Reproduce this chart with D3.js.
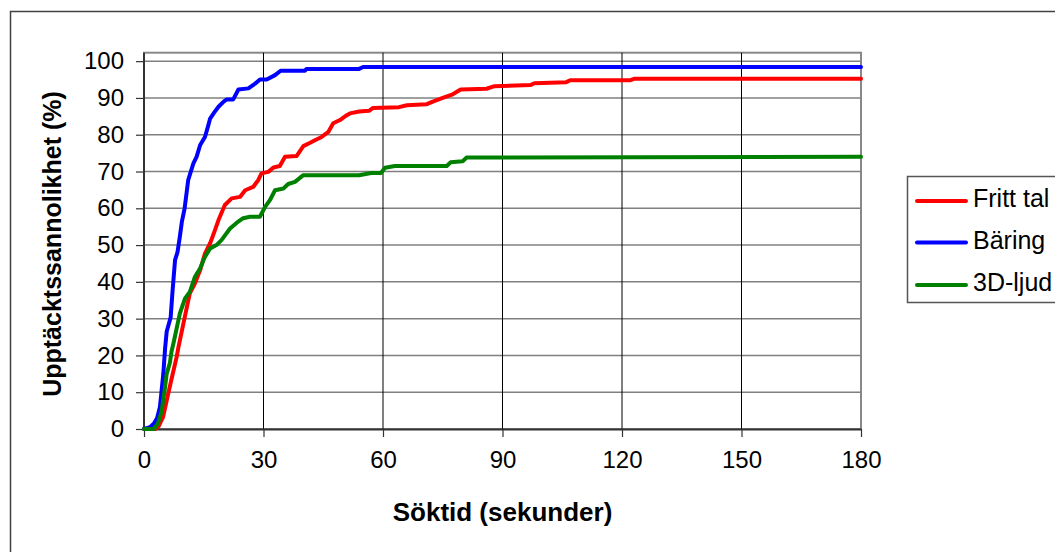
<!DOCTYPE html>
<html>
<head>
<meta charset="utf-8">
<script src="https://cdn.jsdelivr.net/npm/d3@7"></script>
<style>
  body { margin: 0; background: #fff; }
  svg { display: block; font-family: Arial, 'Liberation Sans', sans-serif; }
</style>
</head>
<body>
<svg id="chart" width="1055" height="552"></svg>
<script>
// series names and colours
const seriesNames = ['Fritt tal', 'Bäring', '3D-ljud'];
const seriesColors = ['#ff0000', '#0000ff', '#008000'];

// Fritt tal
const frittT = [0, 2.8, 3.6, 4.8, 6.1, 7.0, 8.2, 8.6, 9.9, 11.5, 12.8, 14.1, 15.3, 16.6, 17.8, 18.7, 20.3, 22.0, 24.1, 25.4, 27.4, 28.7, 29.5, 31.2, 32.5, 34.1, 35.4, 38.3, 40.0, 41.7, 42.9, 44.6, 46.3, 47.5, 49.2, 50.9, 51.7, 54.0, 56.5, 57.5, 64, 66, 71, 72.5, 75, 77.5, 79.5, 86, 88, 97, 98, 106, 107, 122, 123, 180];
const frittV = [0, 0, 0.6, 3.3, 9.7, 14, 19.6, 22, 28.7, 36.9, 39.6, 43.2, 47.7, 50.5, 54, 56.8, 60.9, 62.7, 63.1, 64.9, 65.8, 67.7, 69.5, 69.9, 71.1, 71.5, 74, 74.2, 76.9, 77.8, 78.5, 79.4, 80.8, 83.1, 84, 85.3, 85.8, 86.3, 86.5, 87.3, 87.5, 88, 88.3, 89, 90, 91, 92.3, 92.5, 93.2, 93.5, 94, 94.3, 94.8, 94.8, 95.2, 95.2];

// Bäring
const baringT = [0, 1.5, 2.5, 3.3, 4.0, 4.85, 5.3, 5.7, 6.7, 7.2, 7.8, 8.4, 9.0, 9.5, 10.2, 11.1, 12.4, 13.2, 14.1, 15.3, 16.0, 16.6, 17.6, 18.7, 20.0, 20.8, 22.4, 23.7, 26.2, 27.9, 29.1, 30.8, 32.9, 34.3, 40.4, 40.8, 54.0, 55.0, 180];
const baringV = [0, 0.5, 1.5, 3, 6, 15, 22, 26.5, 30.4, 38, 46, 48, 52.3, 56.3, 60, 67.7, 72.2, 74, 77.2, 79.4, 82, 84.4, 86, 87.6, 89, 89.6, 89.6, 92.3, 92.6, 93.9, 95.0, 95.0, 96.2, 97.4, 97.4, 97.9, 97.9, 98.4, 98.4];

// 3D-ljud
const ljudT = [0, 2.5, 3.5, 4.4, 5.3, 5.7, 6.5, 6.9, 7.4, 9.0, 10.3, 11.5, 12.8, 14.1, 15.3, 16.6, 18.2, 19.5, 21.6, 23.3, 24.9, 26.6, 29.1, 30.4, 31.6, 32.9, 35.0, 36.2, 37.9, 40.0, 54, 57, 59.5, 60.5, 63, 76, 77, 80, 81, 180];
const ljudV = [0, 0, 1.5, 4.7, 11.5, 15, 18, 21, 23.3, 31.4, 35.5, 37.3, 41.4, 43.7, 46.8, 49.1, 50, 51.4, 54.5, 56.1, 57.3, 57.7, 57.7, 60.4, 62.2, 64.9, 65.4, 66.6, 67.2, 69.0, 69.0, 69.6, 69.6, 71.0, 71.5, 71.5, 72.5, 72.8, 73.8, 74.0];

const xTicks = [0, 30, 60, 90, 120, 150, 180];
const yTicks = [0, 10, 20, 30, 40, 50, 60, 70, 80, 90, 100];

const seriesT = [frittT, baringT, ljudT];
const seriesV = [frittV, baringV, ljudV];

const svg = d3.select('#chart');

const plot = { left: 144, right: 861, top: 52.7, bottom: 429 };

const x = d3.scaleLinear().domain([0, 180]).range([plot.left, plot.right]);
const y = d3.scaleLinear().domain([0, 102.3]).range([plot.bottom, plot.top]);

// outer chart frame
svg.append('rect')
  .attr('x', 10.5).attr('y', 11.5)
  .attr('width', 1100).attr('height', 600)
  .attr('fill', 'none')
  .attr('stroke', '#404040')
  .attr('stroke-width', 1.5);

// plot border (top / right)
svg.append('rect')
  .attr('x', plot.left).attr('y', plot.top)
  .attr('width', plot.right - plot.left).attr('height', plot.bottom - plot.top)
  .attr('fill', 'none')
  .attr('stroke', '#888')
  .attr('stroke-width', 2);

// horizontal gridlines
svg.append('g')
  .selectAll('line')
  .data(yTicks.filter((d) => d > 0))
  .join('line')
  .attr('x1', plot.left).attr('x2', plot.right)
  .attr('y1', (d) => y(d)).attr('y2', (d) => y(d))
  .attr('stroke', '#808080')
  .attr('stroke-width', 1.5);

// vertical gridlines
svg.append('g')
  .selectAll('line')
  .data(xTicks.filter((d) => d > 0 && d < 180))
  .join('line')
  .attr('x1', (d) => x(d)).attr('x2', (d) => x(d))
  .attr('y1', plot.top).attr('y2', plot.bottom)
  .attr('stroke', '#000')
  .attr('stroke-width', 1);

// axes
const xAxis = svg.append('g')
  .attr('transform', `translate(0,${plot.bottom})`)
  .call(d3.axisBottom(x).tickValues(xTicks).tickSize(8).tickPadding(14).tickSizeOuter(0));
const yAxis = svg.append('g')
  .attr('transform', `translate(${plot.left},0)`)
  .call(d3.axisLeft(y).tickValues(yTicks).tickSize(8).tickPadding(12).tickSizeOuter(0));

yAxis.select('.domain').attr('d', `M0,${plot.top}V${plot.bottom}`);
[xAxis, yAxis].forEach((g) => {
  g.select('.domain').attr('stroke', '#333').attr('stroke-width', 2);
  g.selectAll('.tick line').attr('stroke', '#333').attr('stroke-width', 1.2);
  g.selectAll('.tick text')
    .attr('font-size', 24)
    .attr('font-family', 'Arial, "Liberation Sans", sans-serif')
    .attr('fill', '#000');
});
xAxis.selectAll('.tick text').attr('dy', '0.71em');

// series lines
const line = d3.line()
  .x((d) => x(d[0]))
  .y((d) => y(d[1]));

seriesNames.forEach((name, i) => {
  const pts = seriesT[i].map((t, j) => [t, seriesV[i][j]]);
  svg.append('path')
    .datum(pts)
    .attr('fill', 'none')
    .attr('stroke', seriesColors[i])
    .attr('stroke-width', 4)
    .attr('stroke-linejoin', 'round')
    .attr('stroke-linecap', 'round')
    .attr('d', line);
});

// axis titles
svg.append('text')
  .attr('x', (plot.left + plot.right) / 2)
  .attr('y', 521)
  .attr('text-anchor', 'middle')
  .attr('font-size', 26)
  .attr('font-weight', 'bold')
  .text('Söktid (sekunder)');

svg.append('text')
  .attr('transform', 'translate(61,244) rotate(-90)')
  .attr('text-anchor', 'middle')
  .attr('font-size', 25)
  .attr('font-weight', 'bold')
  .text('Upptäcktssannolikhet (%)');

// legend
const legend = svg.append('g');
legend.append('rect')
  .attr('x', 907.5).attr('y', 176.5)
  .attr('width', 200).attr('height', 126)
  .attr('fill', '#fff')
  .attr('stroke', '#555')
  .attr('stroke-width', 1.5);

const legendRows = [201, 242.5, 285];
seriesNames.forEach((name, i) => {
  legend.append('line')
    .attr('x1', 917).attr('x2', 966)
    .attr('y1', legendRows[i]).attr('y2', legendRows[i])
    .attr('stroke', seriesColors[i])
    .attr('stroke-width', 4)
    .attr('stroke-linecap', 'round');
  legend.append('text')
    .attr('x', 973)
    .attr('y', legendRows[i] + 6)
    .attr('font-size', 25)
    .text(name);
});
</script>
</body>
</html>
